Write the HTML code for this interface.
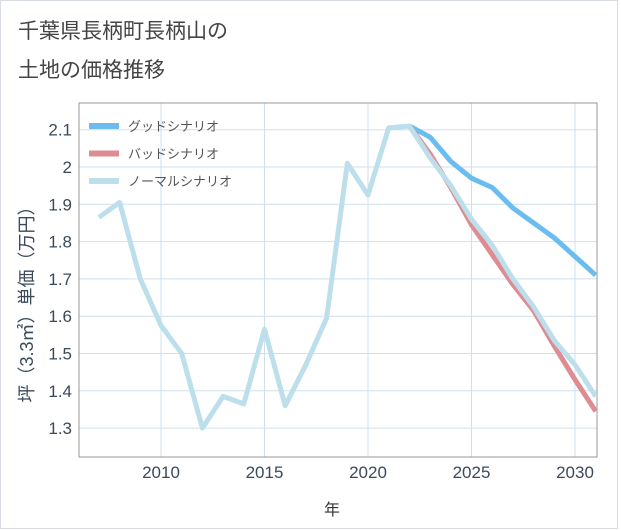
<!DOCTYPE html>
<html><head><meta charset="utf-8"><style>
body{margin:0;background:#fff;}
#wrap{position:relative;width:621px;height:530px;overflow:hidden;background:#fff;}
text{font-family:"Liberation Sans","Noto Sans CJK JP",sans-serif;}
</style></head><body>
<div id="wrap">
<svg id="chart" width="621" height="530">
<rect x="0.5" y="0.5" width="617" height="528" fill="#fff" stroke="#d8dde3"/>
<text x="18" y="38" font-size="21" fill="#444">千葉県長柄町長柄山の</text>
<text x="18" y="77" font-size="21" fill="#444">土地の価格推移</text>
<g id="grid"></g>
<rect x="79" y="103" width="518" height="354" fill="none" stroke="#999"/>
<g id="series" clip-path="url(#clip)"></g>
<clipPath id="clip"><rect x="79" y="103" width="518" height="354"/></clipPath>
<g id="legend"></g>
<text x="332" y="515" font-size="16" fill="#333" text-anchor="middle">年</text>
<text transform="translate(33,300) rotate(-90)" font-size="18" fill="#3b4a5a" text-anchor="middle">坪（3.3㎡）単価（万円）</text>
</svg>
</div>
<script>
const years=[2007,2008,2009,2010,2011,2012,2013,2014,2015,2016,2017,2018,2019,2020,2021,2022,2023,2024,2025,2026,2027,2028,2029,2030,2031];
const normalVals=[1.865,1.905,1.70,1.575,1.50,1.30,1.385,1.365,1.565,1.36,1.47,1.595,2.01,1.925,2.105,2.11,2.025,1.95,1.86,1.79,1.70,1.625,1.535,1.47,1.385];
const futureYears=[2022,2023,2024,2025,2026,2027,2028,2029,2030,2031];
const goodVals=[2.11,2.08,2.015,1.97,1.945,1.89,1.85,1.81,1.76,1.71];
const badVals=[2.11,2.035,1.945,1.845,1.765,1.685,1.615,1.52,1.43,1.345];
const yTicks=[1.3,1.4,1.5,1.6,1.7,1.8,1.9,2,2.1];
const xTicks=[2010,2015,2020,2025,2030];
const legendLabels=["グッドシナリオ","バッドシナリオ","ノーマルシナリオ"];
const NS="http://www.w3.org/2000/svg";
function xs(y){return 161+(y-2010)*20.7;}
function ys(v){return 129.7+(2.1-v)*373;}
const grid=document.getElementById('grid');
yTicks.forEach(t=>{
 const l=document.createElementNS(NS,'line');
 l.setAttribute('x1',79);l.setAttribute('x2',597);l.setAttribute('y1',ys(t));l.setAttribute('y2',ys(t));
 l.setAttribute('stroke','#cfe0ec');
 
 
 grid.appendChild(l);
 const tx=document.createElementNS(NS,'text');
 tx.setAttribute('x',72);tx.setAttribute('y',ys(t)+6);tx.setAttribute('text-anchor','end');
 tx.setAttribute('font-size','17');tx.setAttribute('fill','#3b4a5a');tx.textContent=String(t);
 
 
 grid.appendChild(tx);
});
xTicks.forEach(t=>{
 const l=document.createElementNS(NS,'line');
 l.setAttribute('y1',103);l.setAttribute('y2',457);l.setAttribute('x1',xs(t));l.setAttribute('x2',xs(t));
 l.setAttribute('stroke','#cfe0ec');
 
 
 grid.appendChild(l);
 const tx=document.createElementNS(NS,'text');
 tx.setAttribute('x',xs(t));tx.setAttribute('y',478);tx.setAttribute('text-anchor','middle');
 tx.setAttribute('font-size','17');tx.setAttribute('fill','#3b4a5a');tx.textContent=String(t);
 
 
 grid.appendChild(tx);
});
const ser=document.getElementById('series');
function line(xv,yv,color,name){
 const p=document.createElementNS(NS,'polyline');
 p.setAttribute('points',xv.map((x,i)=>xs(x)+','+ys(yv[i])).join(' '));
 p.setAttribute('fill','none');p.setAttribute('stroke',color);p.setAttribute('stroke-width','5');
 p.setAttribute('stroke-linejoin','round');
 
 
 ser.appendChild(p);
}
line(futureYears,goodVals,'#6bbdf0','good-scenario-line');
line(futureYears,badVals,'#de8c92','bad-scenario-line');
line(years,normalVals,'#bddfec','normal-scenario-line');
const lg=document.getElementById('legend');
const lc=['#6bbdf0','#de8c92','#bddfec'];
legendLabels.forEach((s,i)=>{
 const y=126+i*27.5;
 const r=document.createElementNS(NS,'rect');
 r.setAttribute('x',89);r.setAttribute('y',y-3);r.setAttribute('width',30);r.setAttribute('height',6);r.setAttribute('fill',lc[i]);
 
 
 lg.appendChild(r);
 const t=document.createElementNS(NS,'text');
 t.setAttribute('x',128);t.setAttribute('y',y+5);t.setAttribute('font-size','13');t.setAttribute('fill','#555');t.textContent=s;
 
 
 lg.appendChild(t);
});
</script>
</body></html>
